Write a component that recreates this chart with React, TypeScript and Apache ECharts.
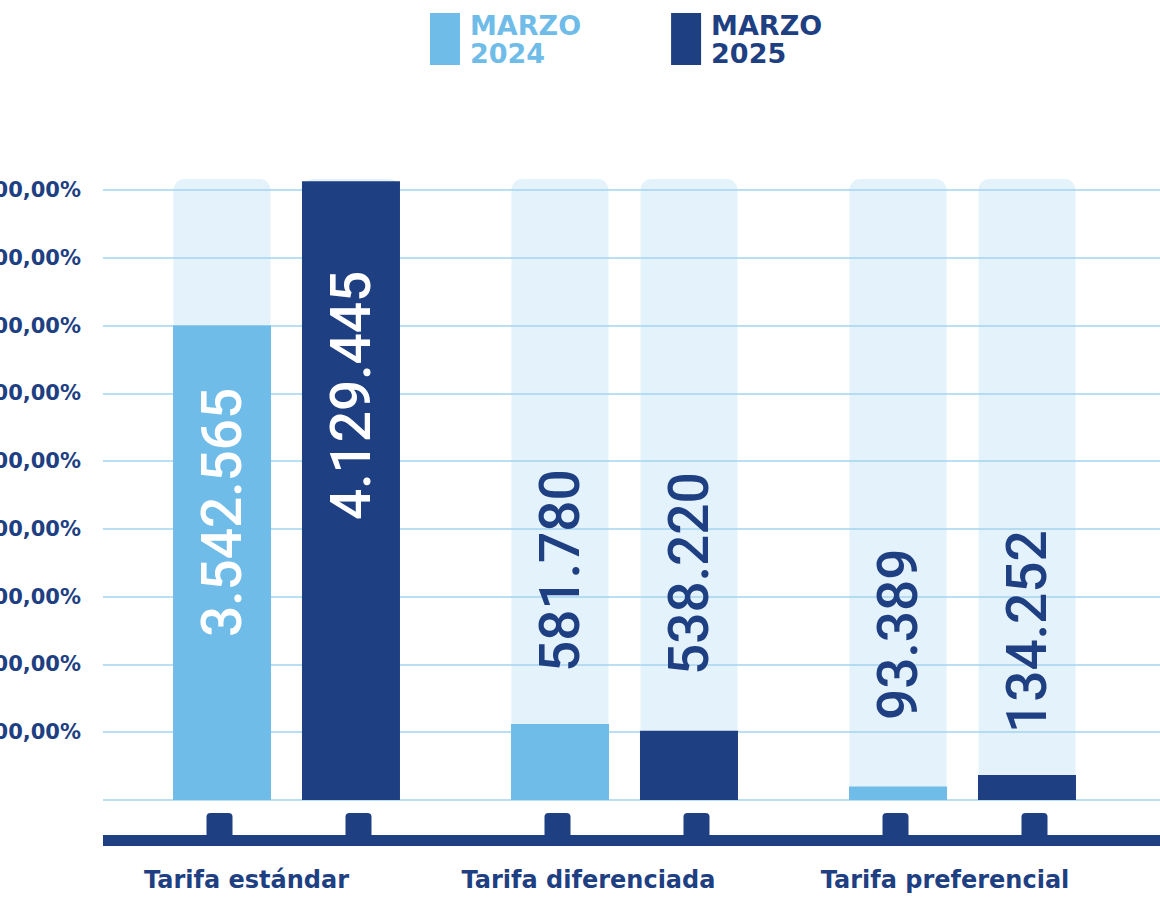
import React, { useEffect, useRef } from "react";
import * as echarts from "echarts";

// ---- data ----
const CATEGORIES = ["Tarifa estándar", "Tarifa diferenciada", "Tarifa preferencial"];
const SERIES_NAMES = ["MARZO 2024", "MARZO 2025"];
// bar heights in axis units (axis 0..900, gridline every 100)
const VALUES_2024 = [700, 112, 20];
const VALUES_2025 = [913, 102, 37];
// printed values
const LABELS_2024 = ["3.542.565", "581.780", "93.389"];
const LABELS_2025 = ["4.129.445", "538.220", "134.252"];
const Y_MIN = 0;
const Y_MAX = 900;
const Y_INTERVAL = 100;

// ---- styles ----
const DARK = "#1E3F82";
const LIGHT = "#6FBCE8";
const BG = "#E4F2FB";
const GRIDLINE = "#A3D5F0";
const LIFT_2024 = [163, 128, 80];
const LIFT_2025 = [280, 125, 67];
const CAT_LABEL_PAD_RIGHT = [80, 72, 35];

const GRID_BOTTOM_PX = 800;
const GRID_TOP_PX = 190;
const BG_TOP_PX = 179;

export default function App() {
  const ref = useRef<HTMLDivElement>(null);
  useEffect(() => {
    if (!ref.current) return;
    const chart = echarts.init(ref.current, undefined, { renderer: "svg" });
    const bgMax = (Y_MAX * (GRID_BOTTOM_PX - BG_TOP_PX)) / (GRID_BOTTOM_PX - GRID_TOP_PX);
    const labelBase = {
      show: true,
      rotate: 90,
      position: "insideBottom",
      align: "left",
      verticalAlign: "middle",
      fontFamily: "Roboto",
      fontWeight: 500,
      fontSize: 55,
    };
    const mkData = (vals: number[], lifts: number[]) =>
      vals.map((v, i) => ({
        value: v,
        label: { distance: lifts[i], color: i === 0 ? "#ffffff" : DARK },
      }));

    const option: any = {
      animation: false,
      legend: {
        top: 11,
        left: 430,
        padding: 0,
        itemWidth: 30,
        itemHeight: 52,
        itemGap: 90,
        icon: "rect",
        selectedMode: false,
        formatter: (n: string) => n.replace(" ", "\n"),
        textStyle: {
          fontFamily: "DejaVu Sans",
          fontWeight: "bold",
          fontSize: 27,
          lineHeight: 28,
          width: 110,
          padding: [0, 0, 0, 5],
        },
        data: [
          { name: SERIES_NAMES[0], textStyle: { color: LIGHT } },
          { name: SERIES_NAMES[1], textStyle: { color: DARK } },
        ],
      },
      grid: [
        { left: 103, right: 0, top: GRID_TOP_PX, bottom: 900 - GRID_BOTTOM_PX, outerBoundsMode: "none", containLabel: false },
        { left: 117.5, right: 28.5, top: BG_TOP_PX, bottom: 900 - GRID_BOTTOM_PX, outerBoundsMode: "none", containLabel: false },
      ],
      xAxis: [
        {
          gridIndex: 0,
          type: "category",
          data: ["-"],
          axisLine: { show: true, onZero: false, lineStyle: { color: DARK, width: 11, cap: "butt" } },
          offset: 40,
          axisTick: { show: false },
          axisLabel: { show: false },
          splitLine: { show: false },
        },
        {
          gridIndex: 1,
          type: "category",
          data: CATEGORIES.map((c, i) => ({
            value: c,
            textStyle: { padding: [0, CAT_LABEL_PAD_RIGHT[i], 0, 0] },
          })),
          axisLine: { show: false },
          axisTick: { show: false },
          axisLabel: {
            margin: 68,
            color: DARK,
            fontFamily: "DejaVu Sans",
            fontWeight: "bold",
            fontSize: 24,
          },
        },
        {
          gridIndex: 1,
          type: "category",
          position: "top",
          data: CATEGORIES,
          show: false,
        },
      ],
      yAxis: [
        {
          gridIndex: 0,
          type: "value",
          min: Y_MIN,
          max: Y_MAX,
          interval: Y_INTERVAL,
          z: 1,
          axisLine: { show: false },
          axisTick: { show: false },
          axisLabel: {
            margin: 22,
            color: DARK,
            fontFamily: "DejaVu Sans",
            fontWeight: "bold",
            fontSize: 21,
            formatter: (v: number) => (v === 0 ? "" : `${v},00%`),
          },
          splitLine: { show: true, lineStyle: { color: GRIDLINE, width: 1.5 } },
        },
        {
          gridIndex: 1,
          type: "value",
          min: Y_MIN,
          max: bgMax,
          show: false,
          splitLine: { show: false },
        },
      ],
      series: [
        // background columns
        {
          type: "bar",
          xAxisIndex: 2,
          yAxisIndex: 1,
          z: 0,
          silent: true,
          barWidth: 97,
          barGap: "33%",
          data: VALUES_2024,
          itemStyle: { color: "rgba(0,0,0,0)" },
          showBackground: true,
          backgroundStyle: { color: BG, borderRadius: [11, 11, 0, 0] },
        },
        {
          type: "bar",
          xAxisIndex: 2,
          yAxisIndex: 1,
          z: 0,
          silent: true,
          barWidth: 97,
          barGap: "33%",
          data: VALUES_2025,
          itemStyle: { color: "rgba(0,0,0,0)" },
          showBackground: true,
          backgroundStyle: { color: BG, borderRadius: [11, 11, 0, 0] },
        },
        // actual bars
        {
          name: SERIES_NAMES[0],
          type: "bar",
          xAxisIndex: 1,
          yAxisIndex: 1,
          z: 3,
          barWidth: 98,
          barGap: "31.6%",
          itemStyle: { color: LIGHT },
          label: { ...labelBase, formatter: (p: any) => LABELS_2024[p.dataIndex] },
          data: mkData(VALUES_2024, LIFT_2024),
        },
        {
          name: SERIES_NAMES[1],
          type: "bar",
          xAxisIndex: 1,
          yAxisIndex: 1,
          z: 3,
          barWidth: 98,
          barGap: "31.6%",
          itemStyle: { color: DARK },
          label: { ...labelBase, formatter: (p: any) => LABELS_2025[p.dataIndex] },
          data: mkData(VALUES_2025, LIFT_2025),
        },
        // tabs joining the bars to the bottom rail
        {
          type: "custom",
          xAxisIndex: 1,
          yAxisIndex: 1,
          z: 4,
          silent: true,
          clip: false,
          encode: { x: 0, y: 1 },
          data: CATEGORIES.map((_, i) => [i, 0]),
          renderItem: (params: any, api: any) => {
            const pt = api.coord([api.value(0), 0]);
            return {
              type: "group",
              children: [-67, 72].map((dx) => ({
                type: "rect",
                shape: { x: pt[0] + dx - 13, y: pt[1] + 13, width: 26, height: 24, r: [4, 4, 0, 0] },
                style: { fill: DARK },
              })),
            };
          },
        },
      ],
    };
    chart.setOption(option);
    return () => chart.dispose();
  }, []);
  return (
    <div
      ref={ref}
      style={{ position: "absolute", left: 0, top: 0, width: 1160, height: 900, background: "#ffffff" }}
    />
  );
}
